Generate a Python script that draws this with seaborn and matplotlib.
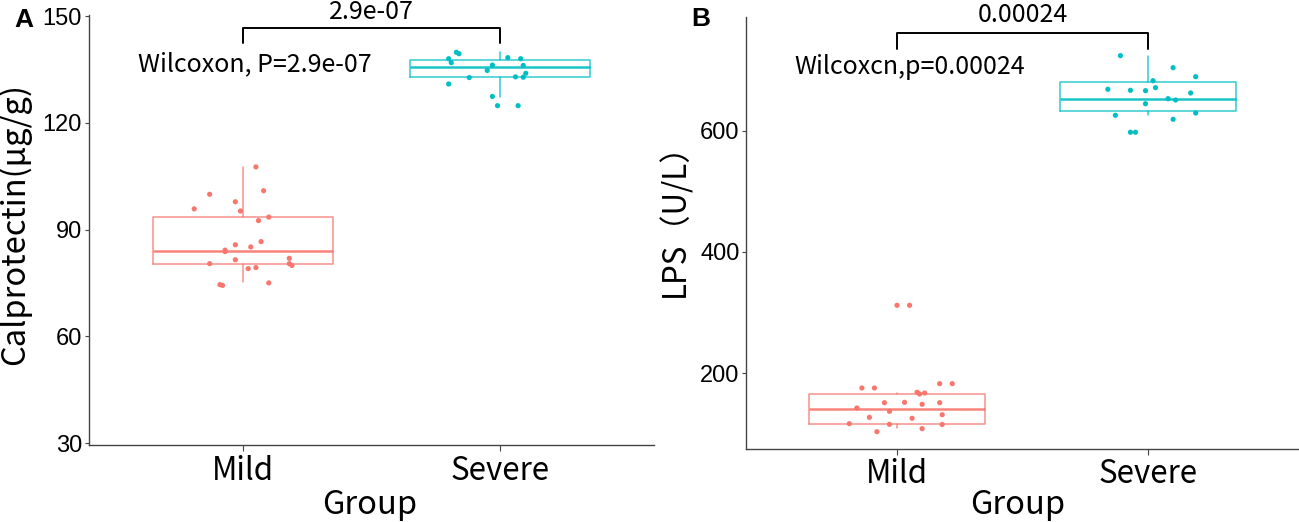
import numpy as np
import pandas as pd
import matplotlib
matplotlib.use("Agg")
import matplotlib.pyplot as plt
import seaborn as sb

groups = ["Mild", "Severe"]
colors = {"Mild": "#F8766D", "Severe": "#00BFC4"}

# panel A - calprotectin, jittered points (value, horizontal jitter)
calp_mild = [107.6, 100.9, 99.9, 97.8, 95.8, 95.2, 93.5, 92.5, 86.6, 85.7, 85.1, 84.2,
             83.8, 81.5, 81.9, 80.4, 80.4, 79.9, 79.3, 79.0, 74.5, 74.3, 75.0]
calp_mild_jit = [0.05, 0.08, -0.13, -0.03, -0.19, -0.01, 0.10, 0.06, 0.07, -0.03, 0.03, -0.07,
                 -0.07, -0.03, 0.18, -0.13, 0.18, 0.19, 0.05, 0.02, -0.09, -0.08, 0.10]
calp_severe = [139.8, 139.4, 138.0, 136.9, 138.3, 138.0, 136.2, 136.1, 134.7, 133.9, 132.7,
               132.9, 132.8, 130.9, 127.4, 124.8, 124.8]
calp_severe_jit = [-0.17, -0.16, -0.20, -0.19, 0.03, 0.08, -0.03, 0.09, -0.05, 0.10, -0.12,
                   0.06, 0.09, -0.20, -0.03, -0.01, 0.07]
# box stats: whislo, q1, med, q3, whishi
calp_box = {"Mild": [75.2, 80.2, 84.0, 93.4, 107.6], "Severe": [127.1, 132.8, 135.6, 137.7, 139.8]}

# panel B - LPS
lps_mild = [312.1, 312.1, 175.8, 175.8, 182.9, 182.9, 168.7, 165.9, 167.5, 151.5, 152.1, 148.9,
            151.5, 142.8, 137.3, 131.7, 127.4, 125.8, 116.9, 115.9, 115.6, 108.7, 103.7]
lps_mild_jit = [0.0, 0.05, -0.14, -0.09, 0.17, 0.22, 0.08, 0.09, 0.11, -0.05, 0.03, 0.10,
                0.17, -0.16, -0.03, 0.18, -0.11, 0.06, -0.19, -0.03, 0.18, 0.10, -0.08]
lps_severe = [723.7, 703.9, 689.0, 682.4, 670.9, 668.3, 666.6, 666.0, 662.2, 652.8, 650.6,
              644.5, 625.4, 629.2, 618.8, 597.4, 597.4]
lps_severe_jit = [-0.11, 0.10, 0.19, 0.02, 0.03, -0.16, -0.07, -0.01, 0.17, 0.08, 0.11,
                  -0.01, -0.13, 0.19, 0.10, -0.07, -0.05]
lps_box = {"Mild": [110.3, 115.9, 140.6, 166.4, 168.0], "Severe": [625.4, 632.5, 651.8, 679.8, 723.7]}

sb.set_style("ticks")
plt.rcParams["font.family"] = ["Noto Sans CJK SC", "DejaVu Sans"]
plt.rcParams["text.color"] = "black"
plt.rcParams["axes.labelcolor"] = "black"

fig = plt.figure(figsize=(12.99, 5.22), dpi=100)
axA = fig.add_axes([0.0684, 0.1479, 0.4353, 0.8228])
axB = fig.add_axes([0.5746, 0.1408, 0.4251, 0.8261])


def make_df(mild, mild_jit, severe, severe_jit):
    rows = []
    for v, j in zip(mild, mild_jit):
        rows.append(("Mild", 1 + j, v))
    for v, j in zip(severe, severe_jit):
        rows.append(("Severe", 2 + j, v))
    return pd.DataFrame(rows, columns=["Group", "pos", "value"])


def draw_panel(ax, df, box, ylim, yticks, ylabel, ylab_size, label_txt, label_y, sig_txt, br_y, br_low, sig_y):
    for i, g in enumerate(groups):
        lo, q1, med, q3, hi = box[g]
        st = {"whislo": lo, "q1": q1, "med": med, "q3": q3, "whishi": hi, "fliers": []}
        c = colors[g]
        ax.bxp([st], positions=[i + 1], widths=0.7, showfliers=False, showcaps=False,
               boxprops=dict(color=c, lw=1.1, alpha=0.8),
               whiskerprops=dict(color=c, lw=1.1, alpha=0.8),
               medianprops=dict(color=c, lw=1.8, alpha=0.9), manage_ticks=False)
    sb.scatterplot(data=df, x="pos", y="value", hue="Group", palette=colors, s=14,
                   edgecolor="none", legend=False, ax=ax, zorder=3)
    ax.set_xlim(0.4, 2.6)
    ax.set_ylim(*ylim)
    ax.set_yticks(yticks)
    ax.set_xticks([1, 2])
    ax.set_xticklabels(groups)
    for s in ["top", "right"]:
        ax.spines[s].set_visible(False)
    for s in ["left", "bottom"]:
        ax.spines[s].set_color("#444444")
        ax.spines[s].set_linewidth(1.0)
    ax.tick_params(axis="y", length=3, pad=2, color="#444444", labelcolor="black",
                   labelsize=17, labelfontfamily="Liberation Sans")
    ax.tick_params(axis="x", length=4, pad=3, color="#444444", labelcolor="black", labelsize=22.5)
    ax.set_xlabel("Group", fontsize=23.5)
    ax.set_ylabel(ylabel, fontsize=ylab_size)
    # wilcoxon annotation + bracket
    ax.text(0.59, label_y, label_txt, fontsize=18, ha="left", va="baseline")
    ax.plot([1, 1, 2, 2], [br_low, br_y, br_y, br_low], color="black", lw=1.4, clip_on=False)
    ax.text(1.5, sig_y, sig_txt, fontsize=18, ha="center", va="baseline", clip_on=False)


dfA = make_df(calp_mild, calp_mild_jit, calp_severe, calp_severe_jit)
dfB = make_df(lps_mild, lps_mild_jit, lps_severe, lps_severe_jit)

draw_panel(axA, dfA, calp_box, (29.5, 150.2), [30, 60, 90, 120, 150], "Calprotectin(μg/g)", 23.5,
           "Wilcoxon, P=2.9e-07", 134.6, "2.9e-07", 146.5, 142.3, 149.1)
draw_panel(axB, dfB, lps_box, (76, 787), [200, 400, 600], "LPS（U/L）", 22.5,
           "Wilcoxcn,p=0.00024", 693.5, "0.00024", 760.6, 734.2, 779.7)

axA.yaxis.set_label_coords(-0.102, 0.513)
axB.yaxis.set_label_coords(-0.10, 0.549)
axA.xaxis.set_label_coords(0.496, -0.102)
axB.xaxis.set_label_coords(0.492, -0.094)

fig.text(24 / 1299, 1 - 20 / 522, "A", fontsize=19, fontweight="bold", family="Liberation Sans",
         ha="center", va="center")
fig.text(701 / 1299, 1 - 19 / 522, "B", fontsize=19, fontweight="bold", family="Liberation Sans",
         ha="center", va="center")

plt.savefig("out.png", dpi=100)
